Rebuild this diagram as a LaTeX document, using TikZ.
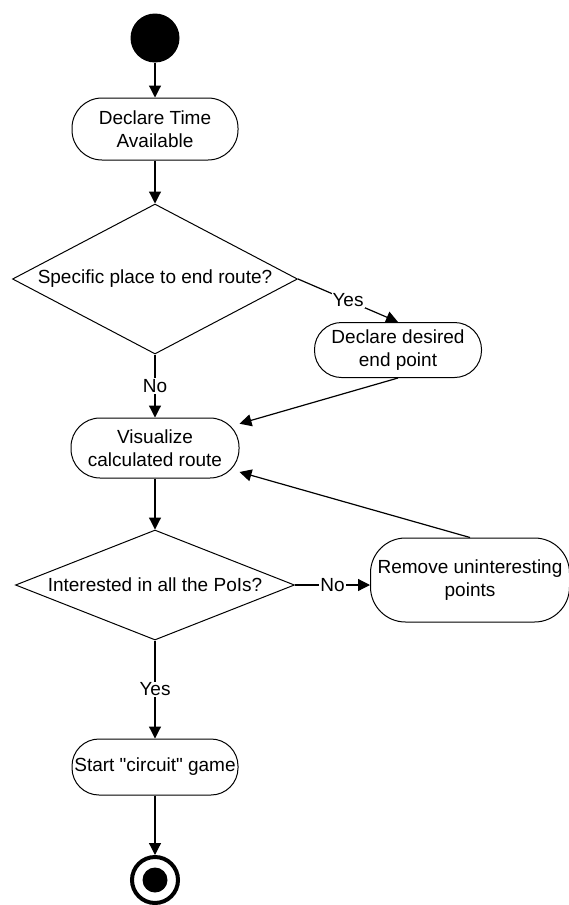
\documentclass[tikz,border=0pt]{standalone}
\usepackage{fontspec}
\setmainfont{Liberation Sans}[Ligatures=TeXOff]
\usetikzlibrary{shapes.geometric,arrows.meta}

\begin{document}
\begin{tikzpicture}[x=1pt, y=-1pt, font=\fontsize{19}{23}\selectfont,
    act/.style={draw, line width=1pt, rectangle, inner sep=0pt, align=center},
    dec/.style={draw, line width=1pt, diamond, inner sep=0pt},
    flow/.style={-{Triangle[length=12pt,width=12pt]}, line width=1.2pt},
    lbl/.style={fill=white, inner sep=1pt}]
            \useasboundingbox (0,0) rectangle (569,905);

            \node[circle, fill, minimum size=49pt, inner sep=0pt] (start) at (155,38) {};
            \node[act, rounded corners=30pt, minimum width=166pt, minimum height=62pt] (decl) at (155,129) {Declare Time\\Available};
            \node[dec, aspect=1.9, minimum width=285pt, minimum height=150pt] (place) at (155,279) {Specific place to end route?};
            \node[act, rounded corners=27pt, minimum width=167pt, minimum height=55pt] (endpt) at (398,350) {Declare desired\\end point};
            \node[act, rounded corners=29pt, minimum width=168pt, minimum height=60pt] (vis) at (155,448) {Visualize\\calculated route};
            \node[dec, aspect=2.5, minimum width=279pt, minimum height=110pt] (pois) at (155,585) {Interested in all the PoIs?};
            \node[act, rounded corners=35pt, minimum width=199pt, minimum height=84pt] (remove) at (470,580) {Remove uninteresting\\points};
            \node[act, rounded corners=27pt, minimum width=166pt, minimum height=56pt] (game) at (155,767) {Start "circuit" game};
            \node[circle, draw, line width=4pt, minimum size=46pt, inner sep=0pt] (stop) at (155,880) {};
            \node[circle, fill, minimum size=25pt, inner sep=0pt] (stopdot) at (155,880) {};

            \draw[flow] (start) -- (decl);
            \draw[flow] (decl) -- (place);
            \draw[flow] (place.east) -- (endpt.north) node[midway, lbl] {Yes};
            \draw[flow] (place) -- (vis) node[midway, lbl] {No};
            \draw[flow] (endpt.south) -- (vis);
            \draw[flow] (vis) -- (pois);
            \draw[flow] (pois.east) -- (pois.east -| remove.west) node[midway, lbl] {No};
            \draw[flow] (remove.north) -- (vis);
            \draw[flow] (pois) -- (game) node[midway, lbl] {Yes};
            \draw[flow] (game) -- (stop);
        \end{tikzpicture}
\end{document}
